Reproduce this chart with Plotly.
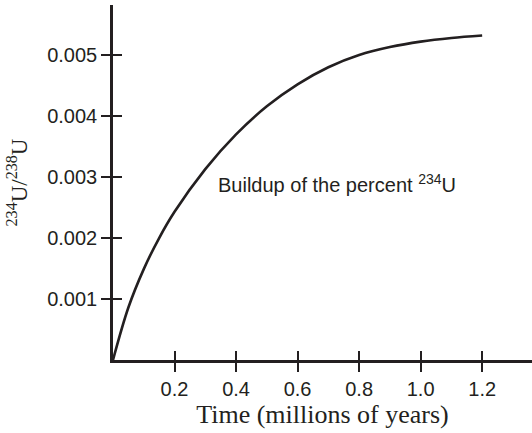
import plotly.graph_objects as go

# Data
time_myr = [0, 0.05, 0.1, 0.15, 0.2, 0.3, 0.4, 0.5, 0.6, 0.7, 0.8, 0.9, 1.0, 1.1, 1.2]
ratio = [0, 0.00086, 0.00149, 0.00200, 0.00243, 0.00313, 0.00370, 0.00416, 0.00452,
         0.00480, 0.00500, 0.00513, 0.00522, 0.00528, 0.00532]
x_ticks = [0.2, 0.4, 0.6, 0.8, 1.0, 1.2]
x_ticklabels = ["0.2", "0.4", "0.6", "0.8", "1.0", "1.2"]
y_ticks = [0.001, 0.002, 0.003, 0.004, 0.005]
y_ticklabels = ["0.001", "0.002", "0.003", "0.004", "0.005"]

INK = "#231f20"
XR = [0, 1.362]
YR = [0, 0.00582]

fig = go.Figure()
fig.add_trace(go.Scatter(x=time_myr, y=ratio, mode="lines",
                         line=dict(color=INK, width=2.6, shape="spline", smoothing=1.0),
                         showlegend=False, hoverinfo="skip"))
# invisible companion trace so the overlay axes (inner tick halves) are drawn
fig.add_trace(go.Scatter(x=time_myr, y=ratio, mode="lines", xaxis="x2", yaxis="y2",
                         line=dict(color="rgba(0,0,0,0)", width=0),
                         showlegend=False, hoverinfo="skip"))

axis_common = dict(showgrid=False, zeroline=False, showline=True, linecolor=INK, linewidth=2.5,
                   tickcolor=INK, tickwidth=2, ticklen=9)

fig.update_layout(
    width=532, height=433,
    margin=dict(l=113, r=0, t=5, b=73),
    paper_bgcolor="white", plot_bgcolor="white",
    xaxis=dict(range=XR, tickmode="array", tickvals=x_ticks, ticktext=x_ticklabels,
               ticks="outside",
               tickfont=dict(family="Liberation Sans, Arial", size=20, color=INK),
               title=dict(text="Time (millions of years)", standoff=6,
                          font=dict(family="Liberation Serif, Times New Roman", size=26, color=INK)),
               **axis_common),
    yaxis=dict(range=YR, tickmode="array", tickvals=y_ticks, ticktext=y_ticklabels,
               ticks="outside",
               tickfont=dict(family="Liberation Sans, Arial", size=20, color=INK),
               title=dict(text="<sup>234</sup>U/<sup>238</sup>U", standoff=14,
                          font=dict(family="Liberation Serif, Times New Roman", size=23, color=INK)),
               **axis_common),
    xaxis2=dict(range=XR, overlaying="x", anchor="y2", tickmode="array", tickvals=x_ticks,
                ticks="inside", showticklabels=False, **axis_common),
    yaxis2=dict(range=YR, overlaying="y", anchor="x2", tickmode="array", tickvals=y_ticks,
                ticks="inside", showticklabels=False, **axis_common),
    annotations=[dict(x=0.336, y=0.0029, xref="x", yref="y", xanchor="left", yanchor="middle",
                      text="Buildup of the percent <sup>234</sup>U", showarrow=False,
                      font=dict(family="Liberation Sans, Arial", size=20, color=INK))],
)

fig.write_html("out.html", config={"displayModeBar": False},
               post_script="document.body.style.margin='0';document.body.style.overflow='hidden';")
